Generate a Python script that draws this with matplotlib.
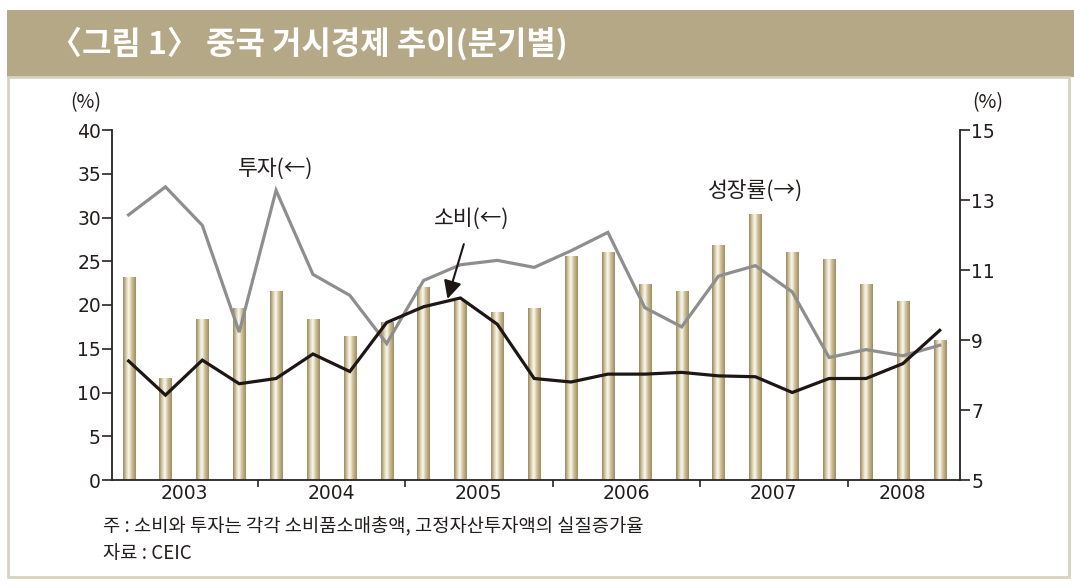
import numpy as np
import matplotlib
matplotlib.use("Agg")
from matplotlib import pyplot as plt
from matplotlib.colors import LinearSegmentedColormap
from matplotlib.patches import Rectangle

plt.rcParams['font.family'] = ['Noto Sans CJK KR', 'DejaVu Sans']

# 2003Q1 - 2008Q3
quarters = np.arange(23)
years = ['2003', '2004', '2005', '2006', '2007', '2008']
year_pos = [1.5, 5.5, 9.5, 13.5, 17.5, 21.0]
year_breaks = [3.5, 7.5, 11.5, 15.5, 19.5]

growth = [10.8, 7.9, 9.6, 9.9, 10.4, 9.6, 9.1, 9.5, 10.5, 10.1, 9.8, 9.9,
          11.4, 11.5, 10.6, 10.4, 11.7, 12.6, 11.5, 11.3, 10.6, 10.1, 9.0]
invest = [30.3, 33.5, 29.1, 16.9, 33.1, 23.5, 21.1, 15.6, 22.8, 24.6, 25.1, 24.3,
          26.2, 28.3, 19.7, 17.5, 23.3, 24.5, 21.5, 14.0, 14.9, 14.2, 15.4]
consume = [13.6, 9.7, 13.7, 11.0, 11.6, 14.4, 12.4, 18.0, 19.8, 20.8, 17.8, 11.6,
           11.2, 12.1, 12.1, 12.3, 11.9, 11.8, 10.0, 11.6, 11.6, 13.3, 17.1]

W, H = 1074, 588
fig = plt.figure(figsize=(W / 100, H / 100), dpi=100)
fig.patch.set_facecolor('white')

txt_col = '#231c1c'
num_font = 'DejaVu Sans'

# header band and frame
fig.patches.append(Rectangle((7 / W, 1 - 77 / H), 1, 67 / H, transform=fig.transFigure,
                             facecolor='#b5a886', edgecolor='none', zorder=0))
fig.patches.append(Rectangle((8 / W, 11 / H), 1061 / W, 500 / H, transform=fig.transFigure,
                             facecolor='none', edgecolor='#d8d1bb', lw=2, zorder=0))
fig.text(50 / W, 1 - 44 / H, '〈그림 1〉 중국 거시경제 추이(분기별)', color='white',
         fontsize=23, fontweight='bold', va='center', ha='left')

ax = fig.add_axes([112 / W, 1 - 480 / H, 848 / W, 350 / H])
ax2 = ax.twinx()
ax.set_zorder(ax2.get_zorder() + 1)
ax.patch.set_visible(False)

axis_col = '#2b2222'

# growth bars with a metallic gradient
bar_cmap = LinearSegmentedColormap.from_list(
    'gold', [(0, '#9a885e'), (0.25, '#d9ceae'), (0.45, '#fcfaf2'),
             (0.7, '#cbbd95'), (1, '#a08e62')])
grad = np.linspace(0, 1, 64).reshape(1, -1)
w = 0.33
for xi, g in zip(quarters, growth):
    ax2.imshow(grad, cmap=bar_cmap, extent=(xi - w / 2, xi + w / 2, 5, g),
               aspect='auto', interpolation='bilinear', zorder=2)

ax.plot(quarters, invest, color='#8e8e8e', lw=2.3, solid_joinstyle='miter')
ax.plot(quarters, consume, color='#1e1614', lw=2.3, solid_joinstyle='miter')

ax.set_xlim(-0.45, 22.55)
ax2.set_xlim(-0.45, 22.55)
ax.set_ylim(0, 40)
ax2.set_ylim(5, 15)
ax.set_yticks(np.arange(0, 41, 5))
ax2.set_yticks(np.arange(5, 16, 2))

ax.set_xticks(year_breaks)
ax.set_xticklabels([])
ax.set_xticks(year_pos, minor=True)
ax.set_xticklabels(years, minor=True, family=num_font)
ax.tick_params(axis='x', which='major', direction='out', length=5, width=1.2, color=axis_col)
ax.tick_params(axis='x', which='minor', length=0, labelsize=13.5, pad=3, labelcolor=txt_col)
ax.tick_params(axis='y', direction='out', length=7, width=1.2, color=axis_col,
               labelsize=13.5, pad=1, labelcolor=txt_col)
ax2.tick_params(axis='y', direction='out', length=7, width=1.2, color=axis_col,
                labelsize=13.5, pad=1, labelcolor=txt_col)
for lab in ax.get_yticklabels() + ax2.get_yticklabels():
    lab.set_family(num_font)

for s in ['top', 'right']:
    ax.spines[s].set_visible(False)
for s in ['top', 'left', 'bottom']:
    ax2.spines[s].set_visible(False)
for s in ['left', 'bottom']:
    ax.spines[s].set_color(axis_col)
    ax.spines[s].set_linewidth(1.3)
ax2.spines['right'].set_color(axis_col)
ax2.spines['right'].set_linewidth(1.3)

fig.text(86 / W, 1 - 103 / H, '(%)', fontsize=14, ha='center', va='center', color=txt_col)
fig.text(988 / W, 1 - 103 / H, '(%)', fontsize=14, ha='center', va='center', color=txt_col)

ax.text(4.0, 35.6, '투자(←)', fontsize=15.5, ha='center', va='center', color=txt_col)
ax.text((755 - 128) / 36.9, 32.9, '성장률(→)', fontsize=15.5, ha='center', va='center',
        color=txt_col)
ax.annotate('소비(←)', xy=(8.65, 20.7), xytext=(9.3, 29.9), fontsize=15.5, ha='center',
            va='center', color=txt_col,
            arrowprops=dict(arrowstyle='-|>,head_length=0.7,head_width=0.35', color='#1e1614',
                            lw=1.5, shrinkA=9, shrinkB=0))

fig.text(103 / W, 1 - 527 / H, '주 : 소비와 투자는 각각 소비품소매총액, 고정자산투자액의 실질증가율',
         fontsize=13.5, ha='left', va='center', color=txt_col)
fig.text(103 / W, 1 - 553 / H, '자료 : CEIC', fontsize=13.5, ha='left', va='center', color=txt_col)

fig.savefig('out.png', dpi=100)
